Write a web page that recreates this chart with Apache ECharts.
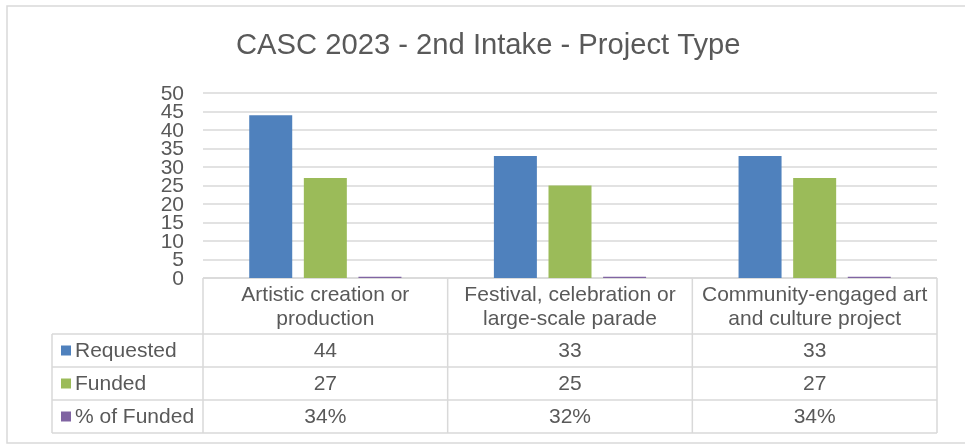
<!DOCTYPE html>
<html>
<head>
<meta charset="utf-8">
<script src="https://cdn.jsdelivr.net/npm/echarts@6/dist/echarts.min.js"></script>
<style>
  html, body { margin: 0; padding: 0; background: #fff; }
  #chart { width: 965px; height: 445px; }
</style>
</head>
<body>
<div id="chart"></div>
<script>
// data
const categories = ['Artistic creation or\nproduction', 'Festival, celebration or\nlarge-scale parade', 'Community-engaged art\nand culture project']
const requested = [44, 33, 33]
const funded = [27, 25, 27]
const pctFunded = [0.34, 0.32, 0.34]
const yTicks = [0, 50, 5] // min, max, interval

const seriesNames = ['Requested', 'Funded', '% of Funded']
const colors = ['#4F81BD', '#9BBB59', '#8064A2']
const textColor = '#595959'
const lineColor = '#D9D9D9'
const font = 'Liberation Sans, Arial, sans-serif'
const fs = 21

let chart = echarts.init(document.getElementById('chart'))

const option = {
  animation: false,
  textStyle: { fontFamily: font },
  title: {
    text: 'CASC 2023 - 2nd Intake - Project Type',
    left: 231,
    top: 26,
    textStyle: { color: textColor, fontSize: 29.2, fontWeight: 'normal', fontFamily: font }
  },
  grid: { left: 203, right: 28, top: 93, bottom: 167 },
  xAxis: {
    type: 'category',
    data: categories,
    axisLine: { show: false },
    axisTick: { show: false },
    axisLabel: {
      color: textColor,
      fontSize: fs,
      lineHeight: 24,
      margin: 5,
      interval: 0
    }
  },
  yAxis: {
    type: 'value',
    min: yTicks[0],
    max: yTicks[1],
    interval: yTicks[2],
    axisLine: { show: false },
    axisTick: { show: false },
    // the ticks sit closer than the font is tall, so the labels are drawn below
    axisLabel: { show: false },
    splitLine: { lineStyle: { color: lineColor, width: 1.5 } }
  },
  series: [
    { name: seriesNames[0], type: 'bar', data: requested, color: colors[0], barWidth: 43, barGap: '27%' },
    { name: seriesNames[1], type: 'bar', data: funded, color: colors[1], barWidth: 43, barGap: '27%' },
    { name: seriesNames[2], type: 'bar', data: pctFunded, color: colors[2], barWidth: 43, barGap: '27%' }
  ]
}
chart.setOption(option)

const g = []

// y tick labels, placed through the value axis
for (let v = yTicks[0]; v <= yTicks[1]; v += yTicks[2]) {
  g.push({
    type: 'text', silent: true,
    style: {
      x: 184, y: chart.convertToPixel({ yAxisIndex: 0 }, v) + 1, text: String(v),
      fill: textColor, fontSize: fs, fontFamily: font, align: 'right', verticalAlign: 'middle'
    }
  })
}

// data table under the plot, laid out from the grid's own rect
const rect = chart.getModel().getComponent('grid').coordinateSystem.getRect()
const band = rect.width / categories.length
const tableTop = rect.y + rect.height
const headerH = 56
const rowH = 33
const legendLeft = 52
const tableBottom = tableTop + headerH + rowH * 3
const line = (x1, y1, x2, y2) => g.push({
  type: 'line', silent: true,
  shape: { x1, y1, x2, y2 },
  style: { stroke: lineColor, lineWidth: 1.5 }
})

// outer border
g.push({
  type: 'rect', silent: true,
  shape: { x: 7, y: 6, width: 1000, height: 437 },
  style: { fill: 'none', stroke: lineColor, lineWidth: 1.5 }
})

line(rect.x, tableTop, rect.x + rect.width, tableTop)
for (let r = 0; r <= 3; r++) {
  const y = tableTop + headerH + r * rowH
  line(legendLeft, y, rect.x + rect.width, y)
}
for (let c = 0; c <= categories.length; c++) {
  const x = rect.x + c * band
  line(x, tableTop, x, tableBottom)
}
line(legendLeft, tableTop + headerH, legendLeft, tableBottom)

const rows = [
  requested.map(String),
  funded.map(String),
  pctFunded.map(v => Math.round(v * 100) + '%')
]
rows.forEach((vals, r) => {
  const cy = tableTop + headerH + r * rowH + rowH / 2
  g.push({
    type: 'rect', silent: true,
    shape: { x: 61, y: cy - 5, width: 10, height: 10 },
    style: { fill: colors[r] }
  })
  g.push({
    type: 'text', silent: true,
    style: { x: 75, y: cy + 1, text: seriesNames[r], fill: textColor, fontSize: fs, fontFamily: font, verticalAlign: 'middle' }
  })
  vals.forEach((v, c) => {
    const cx = chart.convertToPixel({ xAxisIndex: 0 }, categories[c])
    g.push({
      type: 'text', silent: true,
      style: { x: cx, y: cy + 1, text: v, fill: textColor, fontSize: fs, fontFamily: font, align: 'center', verticalAlign: 'middle' }
    })
  })
})

chart.setOption({ graphic: g })
</script>
</body>
</html>
